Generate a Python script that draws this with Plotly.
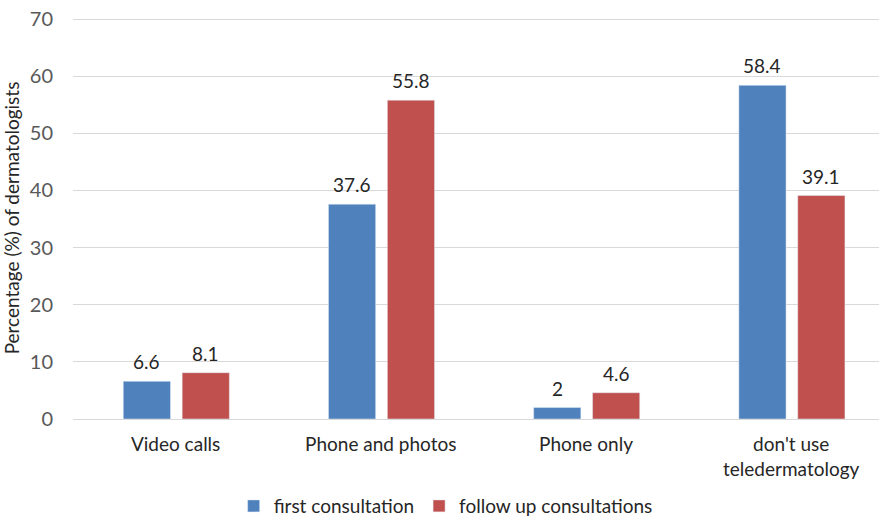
import plotly.graph_objects as go

categories = ["Video calls", "Phone and photos", "Phone only", "don't use<br>teledermatology"]
first_consultation = [6.6, 37.6, 2, 58.4]
follow_up = [8.1, 55.8, 4.6, 39.1]
y_ticks = [0, 10, 20, 30, 40, 50, 60, 70]

FONT = "Lato"
x_idx = list(range(len(categories)))
BAR_W = 0.23
OFFSETS = {"first": -0.255, "follow": 0.032}

fig = go.Figure()
fig.add_trace(go.Bar(
    x=x_idx, y=first_consultation, name="first consultation",
    marker_color="#4F81BD", width=BAR_W, offset=OFFSETS["first"],
))
fig.add_trace(go.Bar(
    x=x_idx, y=follow_up, name="follow up consultations",
    marker_color="#C0504D", width=BAR_W, offset=OFFSETS["follow"],
))

for series, key in ((first_consultation, "first"), (follow_up, "follow")):
    for i, v in zip(x_idx, series):
        fig.add_annotation(
            x=i + OFFSETS[key] + BAR_W / 2, y=v, text=str(v),
            showarrow=False, yanchor="bottom", xanchor="center", yshift=6,
            font=dict(family=FONT, size=19, color="#262626"),
        )

fig.update_layout(
    width=879, height=519,
    margin=dict(l=73, r=0, t=17, b=100, autoexpand=False),
    paper_bgcolor="white", plot_bgcolor="white",
    font=dict(family=FONT, size=19, color="#595959"),
    barmode="overlay",
    showlegend=True,
    legend=dict(
        orientation="h", xref="container", yref="container",
        x=0.507, xanchor="center", y=0.025, yanchor="middle",
        font=dict(family=FONT, size=19, color="#262626"),
        itemwidth=30, traceorder="normal",
    ),
    xaxis=dict(
        range=[-0.5, 3.428], tickmode="array", tickvals=x_idx, ticktext=categories,
        showgrid=False, showline=True, linecolor="#D9D9D9", linewidth=1,
        ticks="outside", ticklen=8, tickcolor="rgba(0,0,0,0)",
        tickfont=dict(family=FONT, size=19, color="#262626"), zeroline=False,
        automargin=False,
    ),
    yaxis=dict(
        range=[0, 70.35], tickmode="array", tickvals=y_ticks,
        showgrid=True, gridcolor="#D9D9D9", gridwidth=1, zeroline=False,
        tickfont=dict(family=FONT, size=20, color="#595959"),
        title=dict(text="Percentage (%) of dermatologists", font=dict(family=FONT, size=19, color="#262626")),
        ticks="outside", ticklen=15, tickcolor="rgba(0,0,0,0)", automargin=False,
    ),
)

fig.write_html("out.html", config={"displayModeBar": False},
               post_script="document.body.style.margin='0px';")
